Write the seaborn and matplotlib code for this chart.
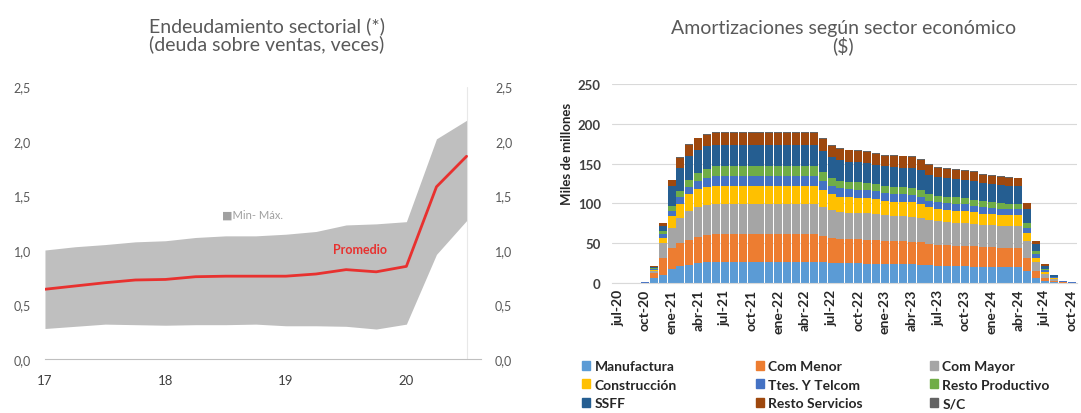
import numpy as np
import seaborn as sns
import matplotlib.pyplot as plt
from matplotlib.patches import Patch

sns.set_style('white')
plt.rcParams['font.family'] = ['Lato', 'DejaVu Sans']

# ---- left panel: debt / sales (quarterly)
trimestres = [17.0, 17.25, 17.5, 17.75, 18.0, 18.25, 18.5, 18.75,
              19.0, 19.25, 19.5, 19.75, 20.0, 20.25, 20.5]
promedio = [0.64, 0.67, 0.70, 0.725, 0.73, 0.755, 0.76, 0.76,
            0.76, 0.78, 0.82, 0.80, 0.85, 1.58, 1.86]
minimo = [0.28, 0.30, 0.32, 0.315, 0.31, 0.315, 0.315, 0.32,
          0.305, 0.305, 0.30, 0.275, 0.32, 0.96, 1.27]
maximo = [1.00, 1.03, 1.05, 1.075, 1.085, 1.115, 1.13, 1.13,
          1.145, 1.17, 1.23, 1.24, 1.26, 2.02, 2.19]
yticks_izq = [0, 0.5, 1.0, 1.5, 2.0, 2.5]
ylabels_izq = ['0,0', '0,5', '1,0', '1,5', '2,0', '2,5']
xticks_izq = [17, 18, 19, 20]
xlabels_izq = ['17', '18', '19', '20']

# ---- right panel: amortizations by sector (monthly, jul-20 .. oct-24)
abrev = ['ene', 'feb', 'mar', 'abr', 'may', 'jun', 'jul', 'ago', 'sep', 'oct', 'nov', 'dic']
meses = [f'{abrev[(6 + i) % 12]}-{20 + (6 + i) // 12}' for i in range(52)]

manufactura = [0, 0, 0, 0.2, 6, 10.5, 18, 21, 23, 25, 26, 26.5,
               26.5, 26.5, 26.5, 26.5, 26.5, 26.5, 26.5, 26.5, 26.5, 26.5, 26.5,
               26, 25.5, 25, 25, 25, 24.5, 24.5, 24, 24, 24, 23.5, 23, 22, 21.5,
               21, 21, 21, 20.5, 20, 20, 19.5, 19.5, 19.5, 14.5, 6, 2.5, 1, 0.3, 0.1]
com_menor = [0, 0, 0, 0.2, 6, 21, 26, 29.5, 31.5, 33, 34, 34.5,
             34.5, 34.5, 34.5, 34.5, 34.5, 34.5, 34.5, 34.5, 34.5, 34.5, 34.5,
             33, 31.5, 30.5, 30, 30, 30, 29.5, 29, 28.5, 28.5, 28.5, 28, 27, 26.5,
             26.5, 26, 26, 25.5, 25, 25, 24.5, 24.5, 24.5, 17, 8.5, 4, 2, 0.6, 0.2]
com_mayor = [0, 0, 0, 0.15, 3, 19, 25.5, 31.5, 36, 37, 37.5, 38,
             38, 38, 38, 38, 38, 38, 38, 38, 38, 38, 38,
             36.5, 34.5, 33.5, 33, 33, 33, 32.5, 32, 31.5, 31.5, 31.5, 31, 30, 29.5,
             29.5, 29, 29, 28.5, 28, 28, 27.5, 27.5, 27.5, 21, 12.5, 5, 2, 0.5, 0.2]
construccion = [0, 0, 0, 0.05, 1.5, 6.5, 14.5, 17, 21, 22.5, 23, 23,
                23, 23, 23, 23, 23, 23, 23, 23, 23, 23, 23,
                21.5, 20, 19.5, 19.5, 19, 19, 18.5, 18, 18, 18, 18, 17.5, 16, 15.5,
                15, 15, 15, 14.5, 14, 14, 14, 13.5, 13.5, 10.5, 4.5, 2, 1, 0.3, 0.1]
ttes_telcom = [0, 0, 0, 0.05, 1, 4, 6.5, 8.5, 9.5, 11, 12, 12.5,
               12.5, 12.5, 12.5, 12.5, 12.5, 12.5, 12.5, 12.5, 12.5, 12.5, 12.5,
               11.5, 10.5, 10.5, 10, 10, 10, 10, 9.5, 9.5, 9.5, 9.5, 9, 8.5, 8.5,
               8.5, 8.5, 8, 8, 8, 7.5, 7.5, 7.5, 7.5, 6.5, 5, 2.5, 1, 0.2, 0.1]
resto_productivo = [0, 0, 0, 0.05, 0.8, 4, 6.5, 7.5, 8.5, 10, 11, 12,
                    12, 12, 12, 12, 12, 12, 12, 12, 12, 12, 12,
                    11, 10, 9.5, 9.5, 9.5, 9.5, 9, 9, 8.5, 8.5, 8.5, 8.5, 8, 8,
                    8, 8, 7.5, 7.5, 7.5, 7.5, 7, 7, 7, 6, 4, 1.5, 1, 0.6, 0.2]
ssff = [0, 0, 0, 0.05, 1.7, 7, 25, 30, 30.5, 29, 28, 27,
        27, 27, 27, 27, 27, 27, 27, 27, 27, 27, 27,
        26.5, 26, 25.5, 25.5, 25.5, 25, 24.5, 25, 25.5, 25, 25, 24.5, 24, 23.5,
        23.5, 23.5, 23.5, 24, 23, 22.5, 22.5, 22.5, 22, 17, 8, 4, 1.5, 0.3, 0.05]
resto_servicios = [0, 0, 0, 0.05, 1, 4, 7.5, 12.5, 13.5, 14.5, 15, 15,
                   15, 15, 15, 15, 15, 15, 15, 15, 15, 15, 15,
                   15, 14.5, 14, 14, 14, 14, 13.5, 13.5, 14, 14, 13.5, 13.5, 13, 11.5,
                   11, 11, 11, 11, 10.5, 10, 10.5, 10.5, 10, 8, 4, 2, 1, 0.2, 0.05]
sin_clasif = [0, 0, 0, 0, 0, 0, 0.5, 0.5, 0.5, 0.5, 1, 1,
              1.5, 1.5, 1.5, 1.5, 1.5, 1.5, 1.5, 1.5, 1.5, 1.5, 1.5,
              1, 1, 1, 1, 1, 1, 1, 1, 1, 1, 1, 1, 1, 1,
              1, 1, 1, 1, 1, 1, 1, 1, 1, 0.5, 0, 0, 0, 0, 0]

sectores = ['Manufactura', 'Com Menor', 'Com Mayor', 'Construcción', 'Ttes. Y Telcom',
            'Resto Productivo', 'SSFF', 'Resto Servicios', 'S/C']
colores = ['#5B9BD5', '#ED7D31', '#A5A5A5', '#FFC000', '#4472C4',
           '#70AD47', '#255E91', '#9E480E', '#636363']
capas = [manufactura, com_menor, com_mayor, construccion, ttes_telcom,
         resto_productivo, ssff, resto_servicios, sin_clasif]

fig = plt.figure(figsize=(10.81, 4.14), dpi=100)
ax1 = fig.add_axes([0.0416, 0.1304, 0.4034, 0.6582])
ax2 = fig.add_axes([0.5661, 0.314, 0.4302, 0.4807])

# left chart
ax1.fill_between(trimestres, minimo, maximo, color='#BFBFBF', lw=0)
sns.lineplot(x=trimestres, y=promedio, color='#E8312F', linewidth=2, ax=ax1)
ax1.axvline(20.5, color='#e8e8e8', lw=0.8, zorder=0)
ax1.set_xlim(17, 20.62)
ax1.set_ylim(0, 2.5)
ax1.set_yticks(yticks_izq)
ax1.set_yticklabels(ylabels_izq)
ax1.set_xticks(xticks_izq)
ax1.set_xticklabels(xlabels_izq)
ax1.tick_params(axis='y', length=0, labelright=True, labelsize=9, labelcolor='#595959', pad=10)
ax1.tick_params(axis='x', length=4, color='#bfbfbf', labelsize=9.5, labelcolor='#404040', pad=7)
for s in ['top', 'left', 'right']:
    ax1.spines[s].set_visible(False)
ax1.spines['bottom'].set_color('#bfbfbf')
ax1.text(18.47, 1.33, '■Min- Máx.', fontsize=8, color='#a0a0a0', va='center')
ax1.text(19.39, 1.01, 'Promedio', fontsize=9, color='#E8312F', weight='bold', va='center')

fig.text(0.247, 0.915, 'Endeudamiento sectorial (*)\n(deuda sobre ventas, veces)',
         ha='center', va='center', fontsize=14, color='#595959', linespacing=0.95)
fig.text(0.78, 0.91, 'Amortizaciones según sector económico\n($)',
         ha='center', va='center', fontsize=14, color='#595959', linespacing=0.95)

# right chart: stacked bars via overlapping cumulative totals
acum = np.cumsum(np.array(capas), axis=0)
for i in reversed(range(len(sectores))):
    sns.barplot(x=meses, y=acum[i], color=colores[i], width=0.9, saturation=1,
                errorbar=None, linewidth=0, ax=ax2)
ax2.set_xlim(-0.7, 51.6)
ax2.set_ylim(0, 250)
ax2.set_yticks([0, 50, 100, 150, 200, 250])
ax2.set_xticks(range(0, 52, 3))
ax2.set_xticklabels(meses[::3], rotation=90, fontweight='bold')
ax2.set_xlabel('')
ax2.yaxis.grid(True, color='#d9d9d9', lw=0.8)
ax2.set_axisbelow(True)
ax2.tick_params(axis='y', length=0, labelsize=9.5, labelcolor='#404040', pad=8)
ax2.tick_params(axis='x', length=0, labelsize=10, labelcolor='#262626', pad=4)
for lab in ax2.get_yticklabels():
    lab.set_fontweight('bold')
for s in ['top', 'left', 'right']:
    ax2.spines[s].set_visible(False)
ax2.spines['bottom'].set_color('#d9d9d9')
fig.text(567 / 1081, 1 - 154 / 414, 'Miles de millones', rotation=90, fontsize=9.5,
         fontweight='bold', ha='center', va='center', color='#262626')

# legend, three columns placed separately
col_x = [582, 756, 930]
for c in range(3):
    handles = [Patch(color=colores[c + 3 * r], label=sectores[c + 3 * r]) for r in range(3)]
    fig.legend(handles=handles, loc='upper left', bbox_to_anchor=(col_x[c] / 1081, 1 - 361 / 414),
               frameon=False, handlelength=0.6, handleheight=0.6,
               handletextpad=0.3, labelspacing=0.48, borderpad=0, borderaxespad=0,
               prop={'weight': 'bold', 'size': 10})

fig.savefig('out.png', dpi=100)
